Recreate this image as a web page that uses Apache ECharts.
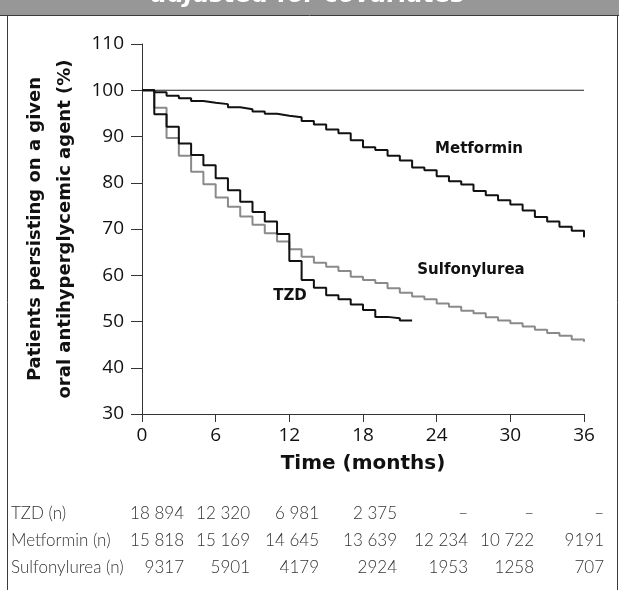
<!DOCTYPE html>
<html>
<head>
<meta charset="utf-8">
<script src="https://cdn.jsdelivr.net/npm/echarts@6/dist/echarts.min.js"></script>
<style>
  html, body { margin: 0; padding: 0; background: #fff; }
  #main { width: 619px; height: 590px; }
</style>
</head>
<body>
<div id="main"></div>
<script>
// months on the x axis
const months = [0, 1, 2, 3, 4, 5, 6, 7, 8, 9, 10, 11, 12, 13, 14, 15, 16, 17, 18,
  19, 20, 21, 22, 23, 24, 25, 26, 27, 28, 29, 30, 31, 32, 33, 34, 35, 36]

// persistence (%) per month
const metformin = [100, 99.55, 98.8, 98.25, 97.7, 97.3, 97.0, 96.3, 95.9, 95.4, 94.9, 94.5,
  94.15, 93.35, 92.6, 91.5, 90.7, 89.2, 87.7, 87.1, 85.85, 84.8, 83.3, 82.7,
  81.4, 80.3, 79.6, 78.2, 77.3, 76.2, 75.3, 74.0, 72.6, 71.6, 70.5, 69.6, 68.2]
const tzd = [100, 94.8, 92.1, 88.5, 86.0, 83.8, 81.0, 78.4, 75.9, 73.7, 71.6, 68.9,
  63.1, 59.0, 57.3, 55.7, 54.8, 53.7, 52.5, 51.0, 50.7, 50.2, 50.2]
const sulfonylurea = [100, 96.2, 89.7, 85.85, 82.4, 79.7, 76.8, 74.8, 72.7, 70.9, 69.1, 67.3,
  65.6, 64.0, 62.7, 61.85, 60.9, 59.7, 59.0, 58.3, 57.2, 56.2, 55.4, 54.8,
  53.9, 53.2, 52.3, 51.8, 50.9, 50.2, 49.6, 48.9, 48.2, 47.5, 46.9, 46.1, 45.6]

// numbers at risk table
const tableRows = ['TZD (n)', 'Metformin (n)', 'Sulfonylurea (n)']
const tzdN = ['18 894', '12 320', '6 981', '2 375', '–', '–', '–']
const metforminN = ['15 818', '15 169', '14 645', '13 639', '12 234', '10 722', '9191']
const sulfonylureaN = ['9317', '5901', '4179', '2924', '1953', '1258', '707']

function pairs(vals) {
  return vals.map((v, i) => [months[i], v])
}

const chart = echarts.init(document.getElementById('main'))

const boldFont = 'DejaVu Sans'
const graphics = []

// top banner (cut off) and frame
graphics.push({
  type: 'rect', shape: { x: 0, y: 0, width: 619, height: 15 },
  style: { fill: '#979797' }, silent: true
})
graphics.push({
  type: 'text', x: 308, y: 8,
  style: {
    text: 'adjusted for covariates', fill: '#fff', font: 'italic bold 24px "DejaVu Sans"',
    textAlign: 'center', textVerticalAlign: 'bottom'
  }
})
graphics.push({
  type: 'line', shape: { x1: 0, y1: 15.5, x2: 619, y2: 15.5 },
  style: { stroke: '#3a3a3a', lineWidth: 1 }
})
graphics.push({
  type: 'line', shape: { x1: 7.5, y1: 15, x2: 7.5, y2: 590 },
  style: { stroke: '#3a3a3a', lineWidth: 1 }
})
graphics.push({
  type: 'line', shape: { x1: 617.5, y1: 15, x2: 617.5, y2: 590 },
  style: { stroke: '#3a3a3a', lineWidth: 1 }
})

// curve labels
const curveLabels = [
  { text: 'Metformin', x: 479, y: 149 },
  { text: 'Sulfonylurea', x: 471, y: 270 },
  { text: 'TZD', x: 290, y: 296 }
]
curveLabels.forEach(l => {
  graphics.push({
    type: 'text', x: l.x, y: l.y,
    style: {
      text: l.text, fill: '#111', font: 'bold 15px "DejaVu Sans"',
      textAlign: 'center', textVerticalAlign: 'middle'
    }
  })
})

// table
const colRight = [184, 250, 319, 397, 468, 534, 604]
const rowY = [514, 541, 568]
const rowVals = [tzdN, metforminN, sulfonylureaN]
tableRows.forEach((name, r) => {
  graphics.push({
    type: 'text', x: 11, y: rowY[r],
    style: { text: name, fill: '#333', font: '300 17px Lato', textVerticalAlign: 'middle' }
  })
  rowVals[r].forEach((v, c) => {
    graphics.push({
      type: 'text', x: colRight[c], y: rowY[r],
      style: {
        text: v, fill: '#333', font: '300 17px Lato',
        textAlign: 'right', textVerticalAlign: 'middle'
      }
    })
  })
})

const option = {
  animation: false,
  grid: { left: 142, right: 35, top: 44, bottom: 176 },
  xAxis: {
    type: 'value',
    min: 0,
    max: 36,
    interval: 6,
    name: 'Time (months)',
    nameLocation: 'middle',
    nameGap: 40,
    nameTextStyle: { fontFamily: boldFont, fontWeight: 'bold', fontSize: 20, color: '#111' },
    axisLine: { lineStyle: { color: '#333', width: 1 } },
    axisTick: { length: 8, lineStyle: { color: '#333' } },
    axisLabel: { fontFamily: 'Open Sans', fontSize: 19, color: '#111', margin: 12 },
    splitLine: { show: false }
  },
  yAxis: {
    type: 'value',
    min: 30,
    max: 110,
    interval: 10,
    name: 'Patients persisting on a given\noral antihyperglycemic agent (%)',
    nameLocation: 'middle',
    nameGap: 57,
    nameTextStyle: {
      fontFamily: boldFont, fontWeight: 'bold', fontSize: 18, color: '#111', lineHeight: 30
    },
    axisLine: { show: true, lineStyle: { color: '#333', width: 1 } },
    axisTick: { show: true, length: 11, lineStyle: { color: '#333' } },
    axisLabel: { fontFamily: 'Open Sans', fontSize: 19, color: '#111', margin: 18 },
    splitLine: { show: false }
  },
  series: [
    {
      // reference line at 100 %
      type: 'line',
      data: [[0, 100], [36, 100]],
      symbol: 'none',
      lineStyle: { color: '#222', width: 1 },
      z: 1
    },
    {
      name: 'Sulfonylurea',
      type: 'line',
      step: 'end',
      data: pairs(sulfonylurea),
      symbol: 'none',
      lineStyle: { color: '#8a8a8a', width: 2 },
      z: 2
    },
    {
      name: 'Metformin',
      type: 'line',
      step: 'end',
      data: pairs(metformin),
      symbol: 'none',
      lineStyle: { color: '#111', width: 2 },
      z: 3
    },
    {
      name: 'TZD',
      type: 'line',
      step: 'end',
      data: pairs(tzd),
      symbol: 'none',
      lineStyle: { color: '#111', width: 2 },
      z: 3
    }
  ],
  graphic: graphics
}

chart.setOption(option)
</script>
</body>
</html>
